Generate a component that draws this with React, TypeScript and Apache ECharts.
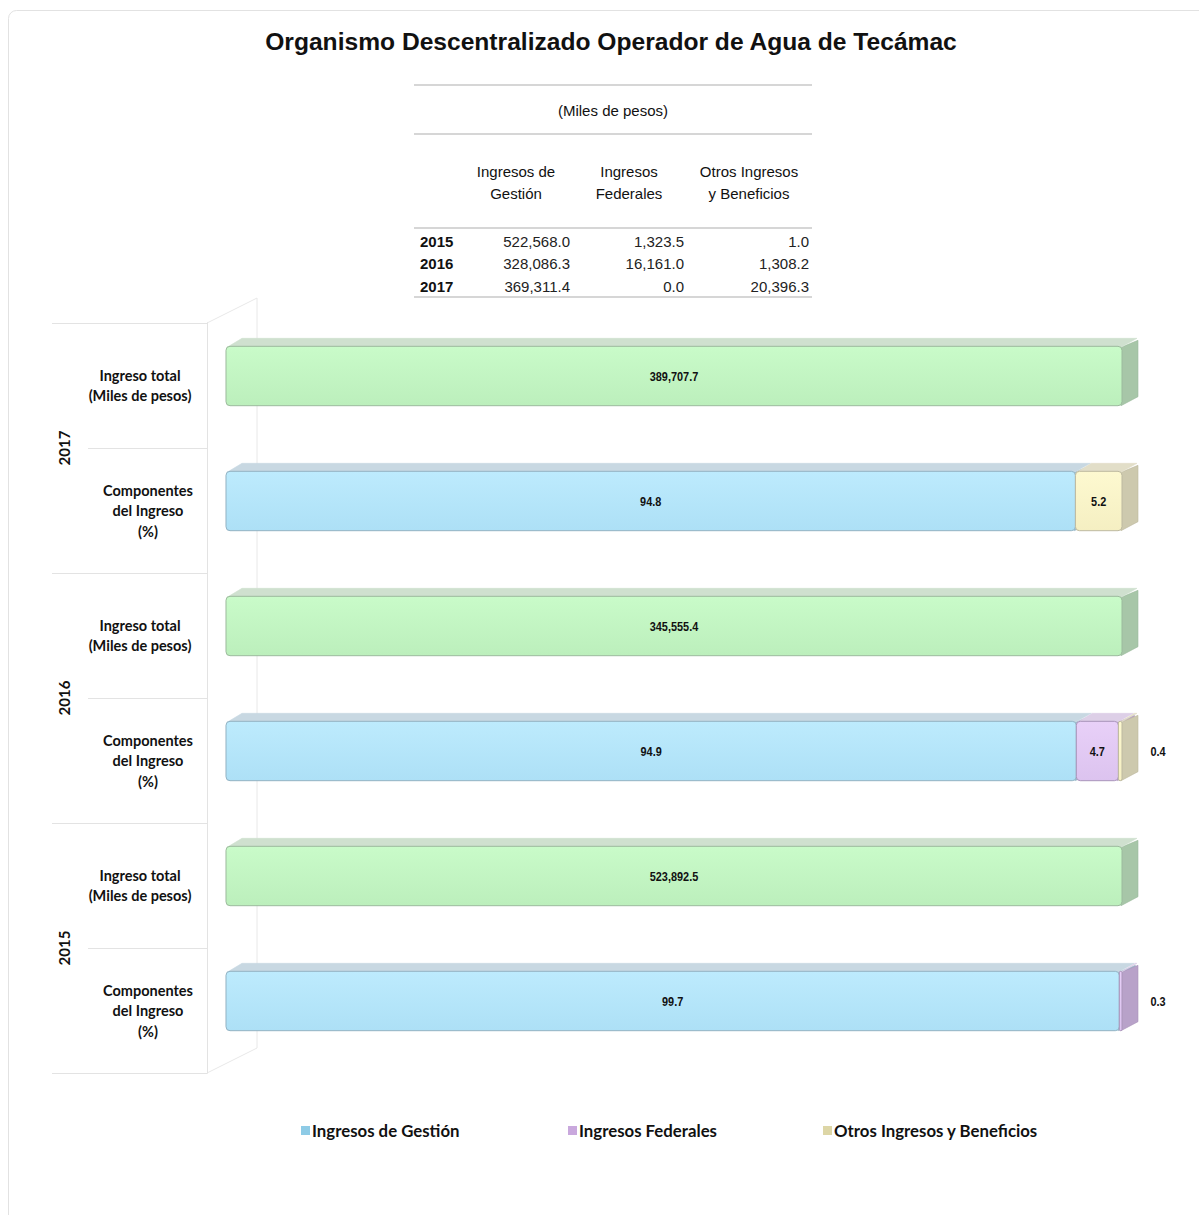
import React, { useEffect, useRef } from "react";
import * as echarts from "echarts";

const title = "Organismo Descentralizado Operador de Agua de Tecámac";
const unitsLabel = "(Miles de pesos)";
const years = ["2015", "2016", "2017"];
const displayYears = ["2017", "2016", "2015"];
const tableHeaders = ["Ingresos de\nGestión", "Ingresos\nFederales", "Otros Ingresos\ny Beneficios"];
const gestion = [522568.0, 328086.3, 369311.4];
const federales = [1323.5, 16161.0, 0.0];
const otros = [1.0, 1308.2, 20396.3];
const totals = [523892.5, 345555.4, 389707.7];
const pctGestion = [99.7, 94.9, 94.8];
const pctFederales = [0.3, 4.7, 0.0];
const pctOtros = [0.0, 0.4, 5.2];
const rowKinds = ["total", "comp"];
const rowLabels = ["Ingreso total\n(Miles de pesos)", "Componentes\ndel Ingreso\n(%)"];
const seriesNames = ["Ingresos de Gestión", "Ingresos Federales", "Otros Ingresos y Beneficios"];
const totalName = "Ingreso total";

const palette = [
  { front: ["#c9fbc9", "#bcefbc"], top: "#cfe0cf", side: "#a7c6a8", stroke: "#9cba9d" },
  { front: ["#bdebfd", "#ade0f6"], top: "#c8d8e2", side: "#9fc0d0", stroke: "#93b2c2" },
  { front: ["#e8d0f8", "#dcc3ef"], top: "#ddcfe7", side: "#b8a2c9", stroke: "#a994ba" },
  { front: ["#fdf9d0", "#f5efc2"], top: "#e2dec8", side: "#cdc9ae", stroke: "#bdb9a0" },
];
const legendIconColors = ["#8ecbe6", "#c9a8dd", "#ddd6a6"];

const fmt = (v: number) =>
  v.toLocaleString("en-US", { minimumFractionDigits: 1, maximumFractionDigits: 1 });

const LABEL_FONT = "Lato, 'Open Sans', sans-serif";
const ARIAL = "'Liberation Sans', Arial, sans-serif";
// the wall stands slightly in front of the bars: value axis starts a bit below 0
const X_MIN = -2.12;

function rowIndex(yearIdx: number, kind: number) {
  const pos = displayYears.indexOf(years[yearIdx]);
  return pos * 2 + kind;
}

const categories: string[] = [];
displayYears.forEach((y) => rowKinds.forEach((k) => categories.push(y + "|" + k)));

function buildSeriesData() {
  const total: number[][] = [];
  const g: number[][] = [];
  const f: number[][] = [];
  const o: number[][] = [];
  years.forEach((_, i) => {
    total.push([rowIndex(i, 0), 0, 100, totals[i]]);
    const a = pctGestion[i];
    const b = a + pctFederales[i];
    const c = b + pctOtros[i];
    g.push([rowIndex(i, 1), 0, a, pctGestion[i]]);
    f.push([rowIndex(i, 1), a, b, pctFederales[i]]);
    o.push([rowIndex(i, 1), b, c, pctOtros[i]]);
  });
  return [total, g, f, o];
}

function makeRenderItem(pi: number, isTotal: boolean) {
  return (params: any, api: any) => {
    const row = api.value(0);
    const x0 = api.value(1);
    const x1 = api.value(2);
    const lv = api.value(3);
    const p0 = api.coord([x0, row]);
    const p1 = api.coord([x1, row]);
    const band = api.size([0, 1])[1];
    const h = band * 0.475;
    const yc = p0[1] - 9.5;
    const top = yc - h / 2;
    const bot = yc + h / 2;
    const w = p1[0] - p0[0];
    if (!(w > 0)) return null;
    const dx = 16;
    const dy = 8;
    const c = palette[pi];
    const children: any[] = [
      {
        type: "polygon",
        shape: { points: [[p1[0] - 1, top + 1], [p1[0] + dx, top - dy + 2], [p1[0] + dx, bot - dy - 1], [p1[0] - 1, bot]] },
        style: { fill: c.side, stroke: c.stroke, lineWidth: 0.6 },
      },
      {
        type: "polygon",
        shape: { points: [[p0[0] + 1, top + 1], [p0[0] + dx, top - dy], [p1[0] + dx - 1, top - dy], [p1[0] - 1, top + 1]] },
        style: { fill: c.top, stroke: c.top, lineWidth: 0.6 },
      },
      {
        type: "rect",
        shape: { x: p0[0], y: top, width: w, height: h, r: Math.min(4, w / 2) },
        style: {
          fill: new echarts.graphic.LinearGradient(0, 0, 0, 1, [
            { offset: 0, color: c.front[0] },
            { offset: 1, color: c.front[1] },
          ]),
          stroke: c.stroke,
          lineWidth: 1,
        },
      },
    ];
    if (lv > 0) {
      const text = isTotal ? fmt(lv) : lv.toFixed(1);
      const inside = w > 28;
      children.push({
        type: "text",
        x: inside ? p0[0] + w / 2 : p1[0] + dx + 20,
        y: yc + 1,
        scaleX: 0.84,
        style: {
          text,
          x: 0,
          y: 0,
          align: "center",
          verticalAlign: "middle",
          fontFamily: ARIAL,
          fontSize: 13,
          fontWeight: "bold",
          fill: "#111",
        },
      });
    }
    return { type: "group", children };
  };
}

function buildTableGraphics() {
  const els: any[] = [];
  const lineStyle = { stroke: "#d6d6d6", lineWidth: 2 };
  [85, 134, 228, 297].forEach((y) =>
    els.push({ type: "line", shape: { x1: 414, y1: y, x2: 812, y2: y }, style: lineStyle, silent: true })
  );
  els.push({
    type: "text",
    style: { text: unitsLabel, x: 613, y: 110, align: "center", verticalAlign: "middle", fontFamily: ARIAL, fontSize: 15, fill: "#111" },
  });
  const colCenters = [516, 629, 749];
  const colRights = [570, 684, 809];
  tableHeaders.forEach((t, i) =>
    els.push({
      type: "text",
      style: { text: t, x: colCenters[i], y: 182, align: "center", verticalAlign: "middle", fontFamily: ARIAL, fontSize: 15, lineHeight: 22, fill: "#111" },
    })
  );
  const cols = [gestion, federales, otros];
  years.forEach((y, r) => {
    const yy = 241 + r * 22.5;
    els.push({
      type: "text",
      style: { text: y, x: 420, y: yy, align: "left", verticalAlign: "middle", fontFamily: ARIAL, fontSize: 15, fontWeight: "bold", fill: "#111" },
    });
    cols.forEach((col, ci) =>
      els.push({
        type: "text",
        style: { text: fmt(col[r]), x: colRights[ci], y: yy, align: "right", verticalAlign: "middle", fontFamily: ARIAL, fontSize: 15, fill: "#222" },
      })
    );
  });
  return els;
}

function buildWallGraphics() {
  const s = { stroke: "#e8e8e8", lineWidth: 1 };
  return [
    { type: "line", shape: { x1: 207, y1: 323, x2: 257, y2: 298 }, style: s, silent: true },
    { type: "line", shape: { x1: 257, y1: 298, x2: 257, y2: 1048 }, style: s, silent: true },
    { type: "line", shape: { x1: 207, y1: 1073, x2: 257, y2: 1048 }, style: s, silent: true },
  ];
}

export default function App() {
  const ref = useRef<HTMLDivElement>(null);
  useEffect(() => {
    if (!ref.current) return;
    const chart = echarts.init(ref.current, null, { renderer: "svg" });
    const [total, g, f, o] = buildSeriesData();
    const axisColor = "#e3e3e3";
    const legendLefts = [296, 563, 818];
    const option: any = {
      animation: false,
      backgroundColor: "#ffffff",
      title: {
        text: title,
        left: 606,
        top: 24,
        textAlign: "center",
        textStyle: { fontFamily: ARIAL, fontSize: 24.6, fontWeight: "bold", color: "#111" },
      },
      legend: seriesNames.map((n, i) => ({
        data: [{ name: n, icon: "rect", itemStyle: { color: legendIconColors[i] } }],
        left: legendLefts[i],
        top: 1117,
        itemWidth: 9,
        itemHeight: 9,
        itemGap: 0,
        textStyle: { fontFamily: LABEL_FONT, fontSize: 16.8, fontWeight: "bold", color: "#111", padding: [0, 0, 0, -3] },
        selectedMode: false,
      })),
      grid: { left: 207, right: 77, top: 323, bottom: 142, containLabel: false, outerBoundsMode: "none" },
      xAxis: { type: "value", min: X_MIN, max: 100, show: false },
      yAxis: [
        {
          type: "category",
          data: categories,
          inverse: true,
          position: "left",
          axisLine: { show: true, onZero: false, lineStyle: { color: axisColor } },
          axisTick: { show: true, length: 119, interval: 0, lineStyle: { color: axisColor } },
          splitLine: { show: false },
          axisLabel: {
            interval: 0,
            margin: 59,
            align: "center",
            formatter: (v: string) => {
              const kind = v.split("|")[1];
              return kind === "total" ? `{t|${rowLabels[0]}}` : `{c|${rowLabels[1]}}`;
            },
            rich: {
              t: { align: "center", lineHeight: 20, padding: [0, 16, 0, 0], fontFamily: LABEL_FONT, fontSize: 14.5, fontWeight: "bold", color: "#111" },
              c: { align: "center", lineHeight: 20.5, fontFamily: LABEL_FONT, fontSize: 14.5, fontWeight: "bold", color: "#111" },
            },
          },
        },
        {
          type: "category",
          data: displayYears,
          inverse: true,
          position: "left",
          axisLine: { show: true, onZero: false, lineStyle: { color: axisColor } },
          axisTick: { show: true, length: 155, interval: 0, lineStyle: { color: axisColor } },
          splitLine: { show: false },
          axisLabel: {
            interval: 0,
            rotate: 90,
            margin: 136,
            fontFamily: LABEL_FONT,
            fontSize: 15,
            fontWeight: "bold",
            color: "#111",
          },
        },
      ],
      graphic: [
        {
          type: "rect",
          shape: { x: 8.5, y: 10.5, width: 1200, height: 1215, r: 8 },
          style: { fill: "none", stroke: "#e2e2e2", lineWidth: 1 },
          silent: true,
          z: -10,
        },
        ...buildWallGraphics(),
        ...buildTableGraphics(),
      ],
      series: [
        { name: totalName, data: total, pi: 0, isTotal: true },
        { name: seriesNames[0], data: g, pi: 1, isTotal: false },
        { name: seriesNames[1], data: f, pi: 2, isTotal: false },
        { name: seriesNames[2], data: o, pi: 3, isTotal: false },
      ].map((s) => ({
        type: "custom",
        name: s.name,
        xAxisIndex: 0,
        yAxisIndex: 0,
        encode: { x: [1, 2], y: 0 },
        itemStyle: { color: palette[s.pi].front[1] },
        renderItem: makeRenderItem(s.pi, s.isTotal),
        data: s.data,
      })),
    };
    chart.setOption(option);
    return () => chart.dispose();
  }, []);
  return (
    <div
      ref={ref}
      style={{ position: "absolute", left: 0, top: 0, width: 1199, height: 1215, background: "#fff" }}
    />
  );
}
